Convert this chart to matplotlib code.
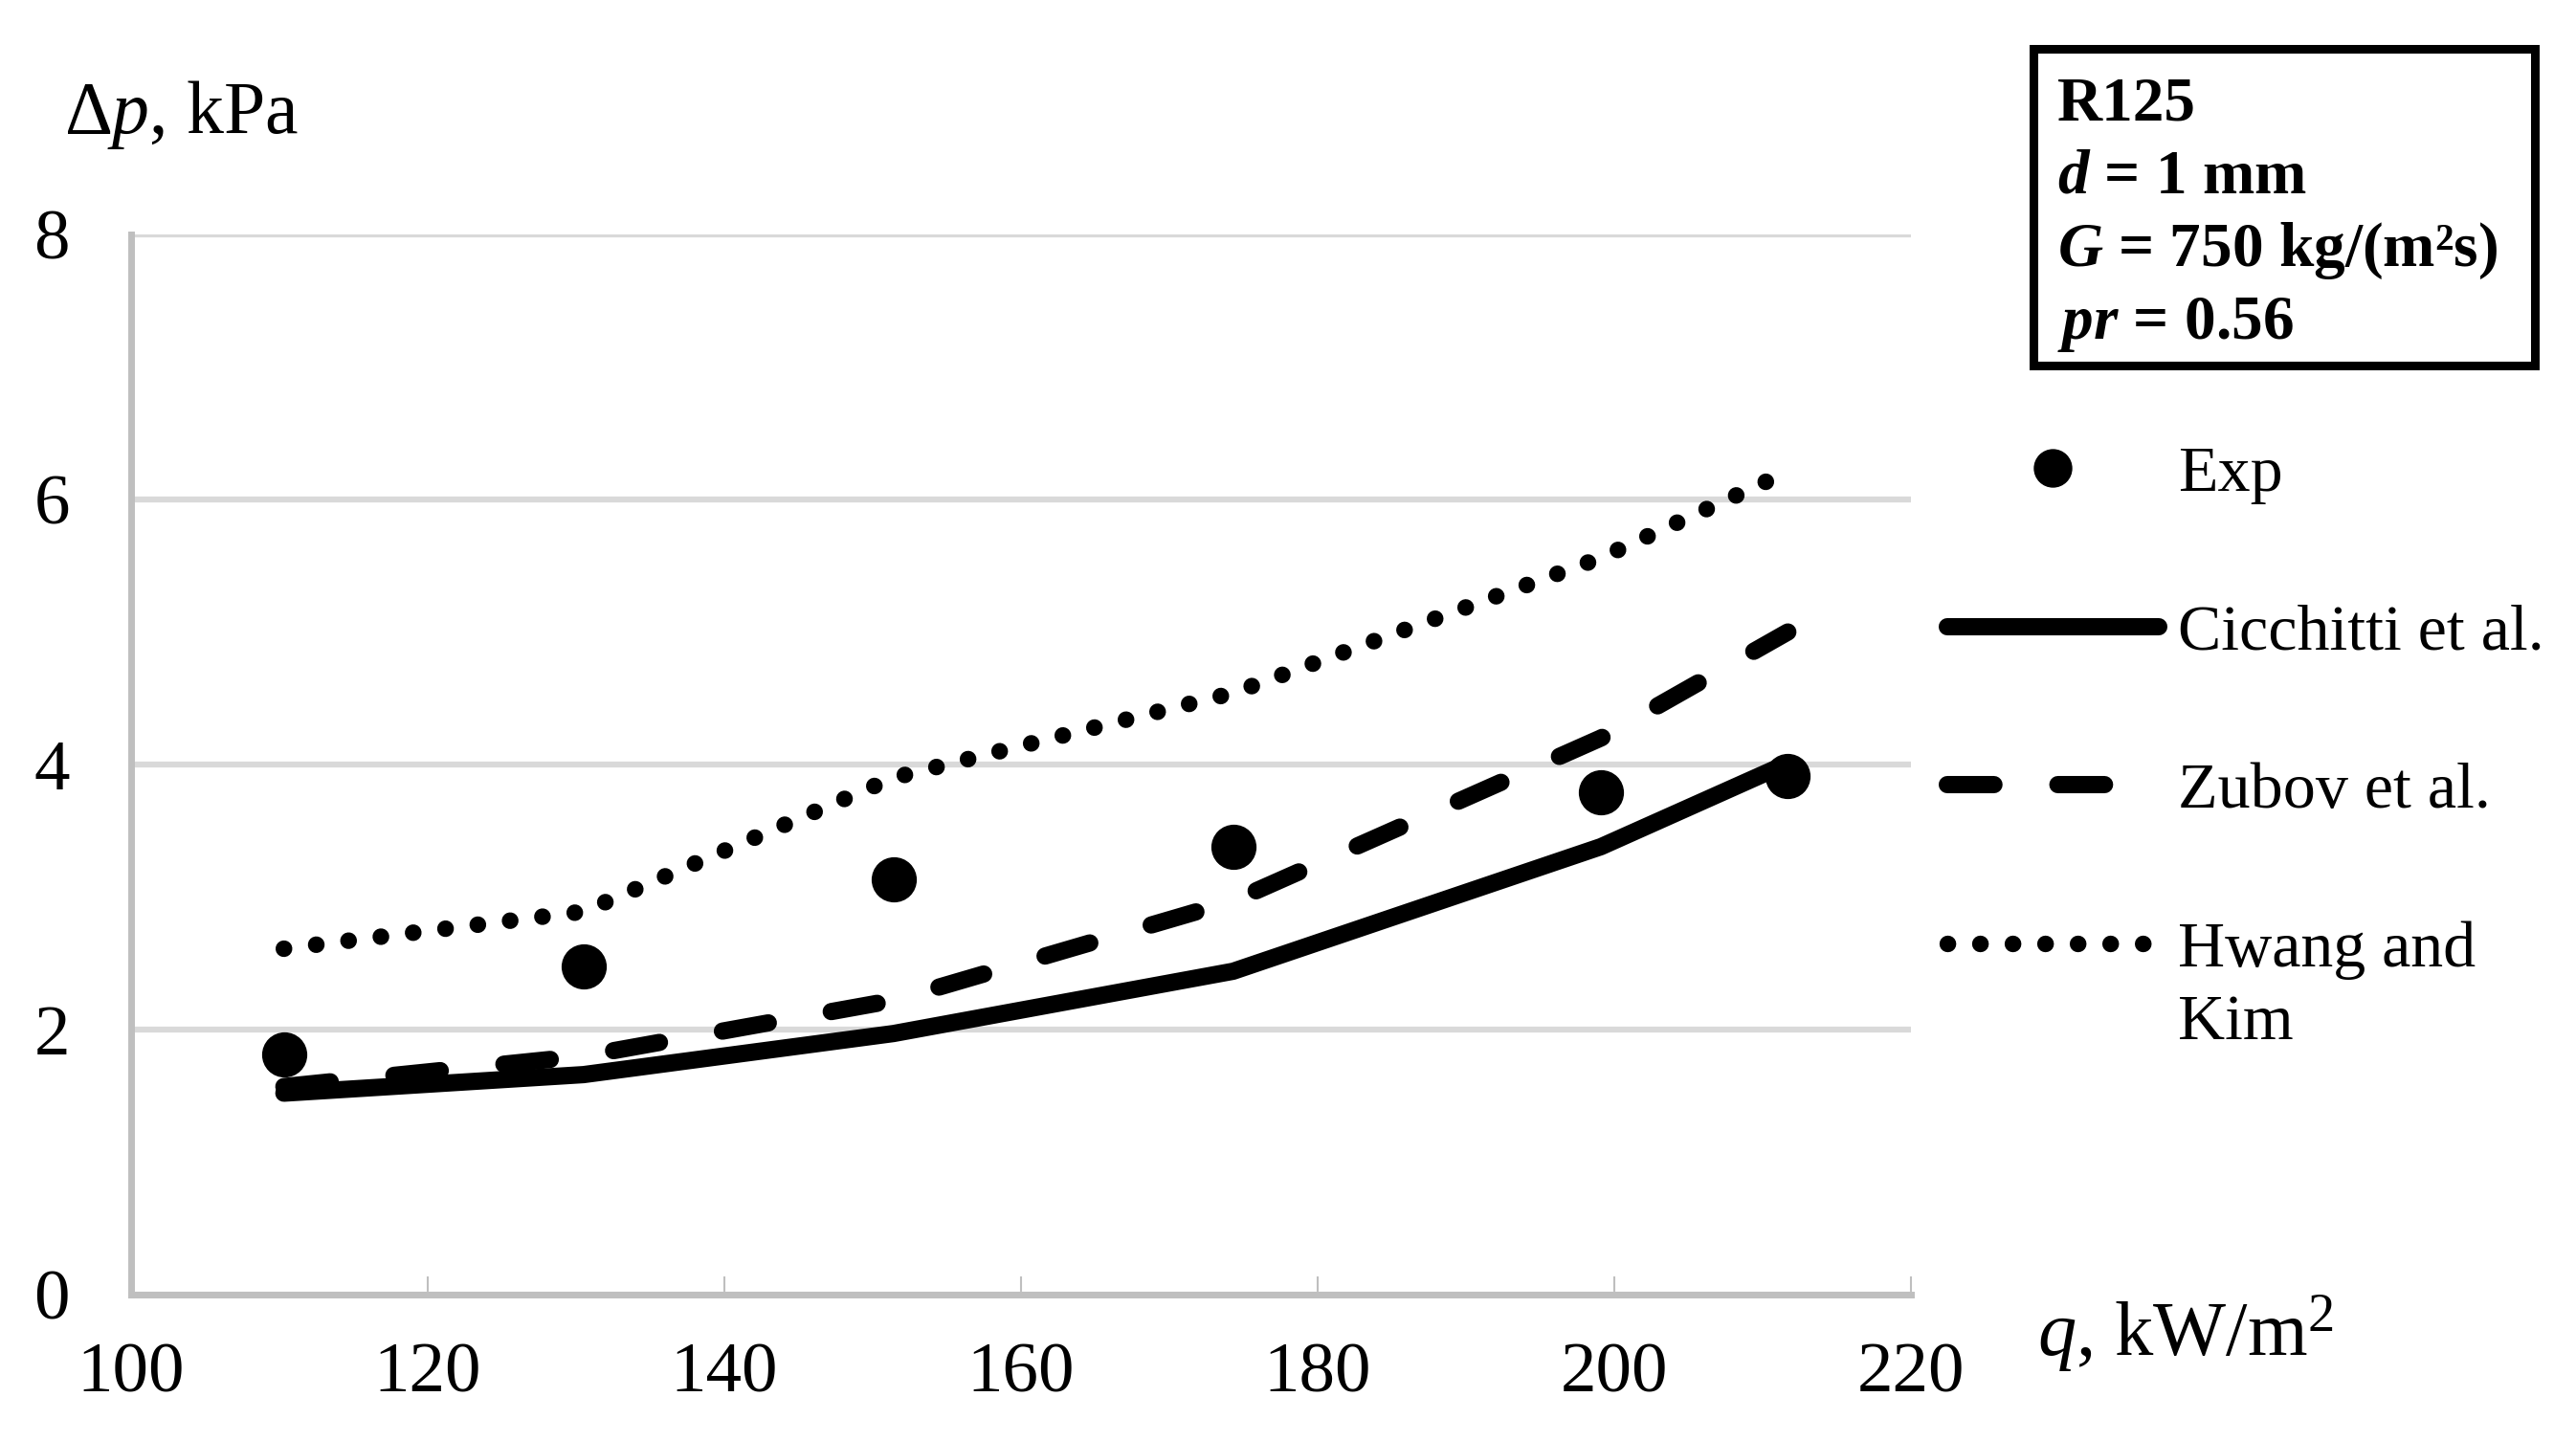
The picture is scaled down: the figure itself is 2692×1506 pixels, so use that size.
import matplotlib
matplotlib.use('Agg')
import matplotlib.pyplot as plt
import matplotlib.patches as patches

plt.rcParams['font.family'] = ['Liberation Serif', 'DejaVu Serif']
plt.rcParams['mathtext.fontset'] = 'custom'
plt.rcParams['mathtext.rm'] = 'Liberation Serif'
plt.rcParams['mathtext.it'] = 'Liberation Serif:italic'
plt.rcParams['mathtext.bf'] = 'Liberation Serif:bold'
plt.rcParams['mathtext.bfit'] = 'Liberation Serif:bold:italic'

# heat flux q, kW/m2
q = [110.3, 130.5, 151.4, 174.3, 199.1, 211.7]
# pressure drop, kPa
dp_exp = [1.81, 2.48, 3.13, 3.38, 3.79, 3.91]
dp_cicchitti = [1.52, 1.66, 1.97, 2.44, 3.38, 4.01]
dp_zubov = [1.57, 1.80, 2.22, 2.97, 4.20, 5.00]
dp_hwang = [2.61, 2.89, 3.90, 4.54, 5.56, 6.21]

x_ticks = [100, 120, 140, 160, 180, 200, 220]
y_ticks = [0, 2, 4, 6, 8]

W, H = 2692, 1506
fig = plt.figure(figsize=(W/100, H/100), dpi=100)
ax = fig.add_axes([137/W, 1-1353/H, 1860/W, 1108/H])

ax.set_xlim(100, 220)
ax.set_ylim(0, 8)
ax.set_xticks(x_ticks)
ax.set_yticks(y_ticks)

ax.yaxis.grid(True, color='#d9d9d9', lw=4.5)
ax.set_axisbelow(True)
for s in ['top', 'right']:
    ax.spines[s].set_visible(False)
for s in ['left', 'bottom']:
    ax.spines[s].set_color('#bfbfbf')
    ax.spines[s].set_linewidth(5)
ax.tick_params(axis='x', direction='in', length=14, width=1.5,
               color='#bfbfbf', pad=36, labelsize=54)
ax.tick_params(axis='y', length=0, pad=46, labelsize=54)

ax.plot(q, dp_exp, 'o', color='black', ms=33, label='Exp', zorder=5)
ax.plot(q, dp_cicchitti, color='black', lw=13, solid_capstyle='round',
        solid_joinstyle='round', label='Cicchitti et al.')
ax.plot(q, dp_zubov, color='black', lw=13, dashes=(2.7, 3.7),
        dash_capstyle='round', label='Zubov et al.')
ax.plot(q, dp_hwang, color='black', lw=12.5, dashes=(0.01, 1.95),
        dash_capstyle='round', label='Hwang and')

ax.set_ylabel('Δ$p$, kPa', fontsize=56, rotation=0, ha='left', va='baseline')
ax.yaxis.set_label_coords((67-137)/1860, (1353-139)/1108)
ax.set_xlabel('$q$, kW/$\\mathrm{m}^{2}$', fontsize=58, ha='left', va='baseline')
ax.xaxis.set_label_coords((2129-137)/1860, (1353-1418)/1108)

leg = ax.legend(loc='upper left', bbox_to_anchor=(2035/W, 1-465/H),
                bbox_transform=fig.transFigure, frameon=False, fontsize=49,
                handlelength=3.24, handletextpad=0.3, labelspacing=1.53,
                borderpad=0, borderaxespad=0, markerscale=0.85)
fig.canvas.draw()
ax.annotate('Kim', xy=(0, 0), xycoords=leg.get_texts()[3],
            xytext=(0, -76), textcoords='offset pixels',
            ha='left', va='bottom', fontsize=49)

box = patches.Rectangle((2125/W, 1-382/H), 524/W, 331/H, fill=False,
                        lw=6.5, ec='black', transform=fig.transFigure)
fig.add_artist(box)
info = ['R125', '$\\mathbfit{d}$ = 1 mm', '$\\mathbfit{G}$ = 750 kg/(m²s)',
        '$\\mathbfit{pr}$ = 0.56']
for i, line in enumerate(info):
    fig.text(2150/W, 1-(126+76*i)/H, line, fontsize=47, fontweight='bold',
             ha='left', va='baseline')

fig.savefig('out.png', dpi=100)
